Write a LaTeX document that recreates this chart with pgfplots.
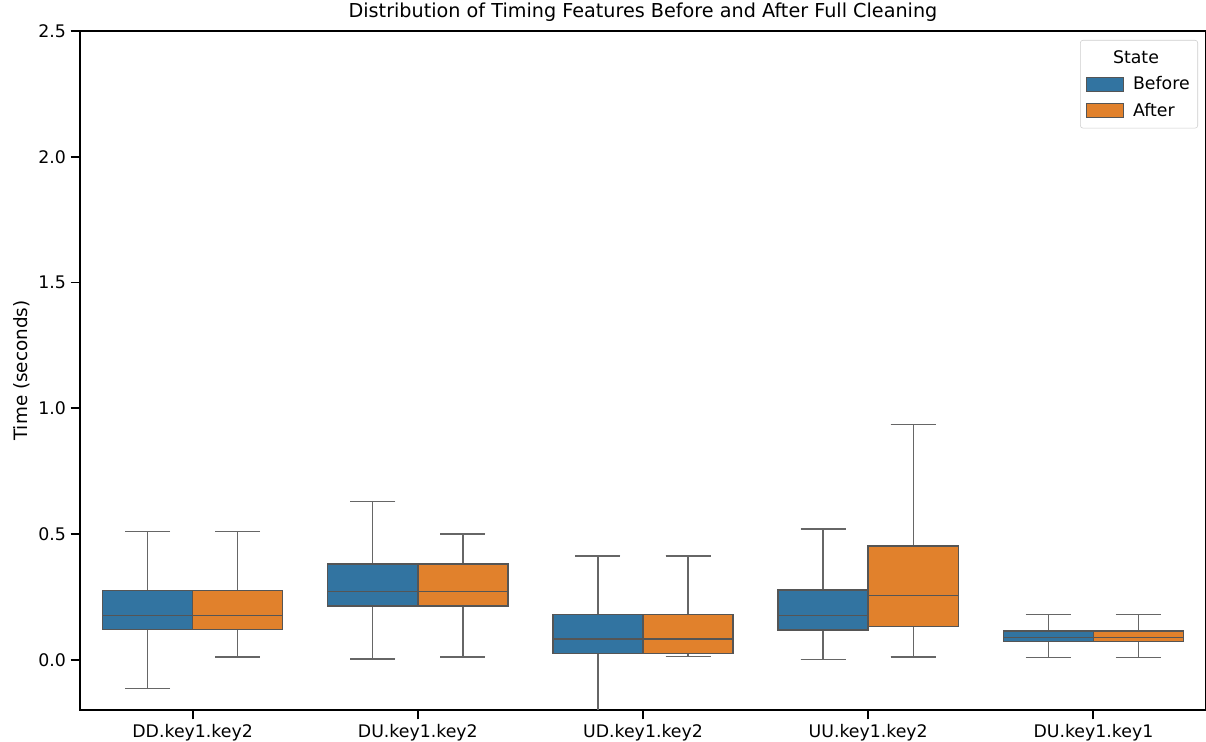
\documentclass[border=0pt]{standalone}
\usepackage{fontspec}
\setmainfont{DejaVu Sans}
\usepackage{pgfplots}
\pgfplotsset{compat=1.18}
\usepgfplotslibrary{statistics}
\definecolor{sbblue}{HTML}{3274A1}
\definecolor{sborange}{HTML}{E1812C}
\definecolor{edge}{HTML}{555555}
\newcommand{\lf}{\fontsize{13}{15.6}\selectfont}
\pgfplotsset{
  boxplot/every median/.style={line width=1.1pt, draw=edge},
  boxplot/every whisker/.style={line width=1.1pt, draw=edge!90},
}
\begin{document}
\begin{tikzpicture}
\useasboundingbox (-60pt,-24pt) rectangle (844.5pt,532.5pt);
\begin{axis}[
  at={(0,0)}, anchor=south west, scale only axis,
  width=844.5pt, height=509.25pt,
  xmin=-0.5, xmax=4.5, ymin=-0.2, ymax=2.5,
  xtick={0,1,2,3,4},
  xticklabels={DD.key1.key2,DU.key1.key2,UD.key1.key2,UU.key1.key2,DU.key1.key1},
  ytick={0,0.5,1,1.5,2,2.5},
  yticklabel style={/pgf/number format/.cd, fixed, fixed zerofill, precision=1},
  /pgf/number format/assume math mode=true,
  tick label style={font=\lf},
  tick align=outside, major tick length=7pt,
  xtick pos=lower, ytick pos=left,
  tick style={line width=1.4pt, black},
  axis line style={line width=1.4pt},
  title={Distribution of Timing Features Before and After Full Cleaning},
  title style={font=\fontsize{14.4}{17}\selectfont, at={(0.5,1)}, anchor=base, yshift=4pt},
  ylabel={Time (seconds)},
  ylabel style={font=\fontsize{13.8}{16}\selectfont, at={(axis description cs:-0.0515,0.5)}, anchor=center},
  legend style={at={(rel axis cs:1,1)}, anchor=north east, xshift=-6pt, yshift=-6.75pt,
    draw=black!20, rounded corners=2pt, font=\lf, row sep=4.5pt, column sep=5pt,
    inner xsep=4pt, inner ysep=5.5pt},
  legend cell align=left,
  legend image code/.code={\draw[#1, sharp corners, line width=0.8pt] (0pt,-5.25pt) rectangle (27.75pt,5.25pt);},
]
% DD.key1.key2
\addplot+[forget plot, fill=sbblue, draw=edge, line width=1.1pt, mark=none, solid,
  boxplot prepared={draw direction=y, draw position=-0.2, box extend=0.4, whisker extend=0.2,
  median=0.175, upper quartile=0.275, lower quartile=0.12,
  upper whisker=0.509, lower whisker=-0.114}] coordinates {};
\addplot+[forget plot, fill=sborange, draw=edge, line width=1.1pt, mark=none, solid,
  boxplot prepared={draw direction=y, draw position=0.2, box extend=0.4, whisker extend=0.2,
  median=0.175, upper quartile=0.275, lower quartile=0.12,
  upper whisker=0.509, lower whisker=0.011}] coordinates {};
% DU.key1.key2
\addplot+[forget plot, fill=sbblue, draw=edge, line width=1.1pt, mark=none, solid,
  boxplot prepared={draw direction=y, draw position=0.8, box extend=0.4, whisker extend=0.2,
  median=0.271, upper quartile=0.380, lower quartile=0.214,
  upper whisker=0.630, lower whisker=0.003}] coordinates {};
\addplot+[forget plot, fill=sborange, draw=edge, line width=1.1pt, mark=none, solid,
  boxplot prepared={draw direction=y, draw position=1.2, box extend=0.4, whisker extend=0.2,
  median=0.271, upper quartile=0.380, lower quartile=0.214,
  upper whisker=0.500, lower whisker=0.011}] coordinates {};
% UD.key1.key2
\addplot+[forget plot, fill=sbblue, draw=edge, line width=1.1pt, mark=none, solid,
  boxplot prepared={draw direction=y, draw position=1.8, box extend=0.4, whisker extend=0.2,
  median=0.083, upper quartile=0.179, lower quartile=0.024,
  upper whisker=0.413, lower whisker=-0.26}] coordinates {};
\addplot+[forget plot, fill=sborange, draw=edge, line width=1.1pt, mark=none, solid,
  boxplot prepared={draw direction=y, draw position=2.2, box extend=0.4, whisker extend=0.2,
  median=0.083, upper quartile=0.179, lower quartile=0.024,
  upper whisker=0.413, lower whisker=0.012}] coordinates {};
% UU.key1.key2
\addplot+[forget plot, fill=sbblue, draw=edge, line width=1.1pt, mark=none, solid,
  boxplot prepared={draw direction=y, draw position=2.8, box extend=0.4, whisker extend=0.2,
  median=0.175, upper quartile=0.278, lower quartile=0.119,
  upper whisker=0.519, lower whisker=0.001}] coordinates {};
\addplot+[forget plot, fill=sborange, draw=edge, line width=1.1pt, mark=none, solid,
  boxplot prepared={draw direction=y, draw position=3.2, box extend=0.4, whisker extend=0.2,
  median=0.255, upper quartile=0.452, lower quartile=0.132,
  upper whisker=0.935, lower whisker=0.011}] coordinates {};
% DU.key1.key1
\addplot+[forget plot, fill=sbblue, draw=edge, line width=1.1pt, mark=none, solid,
  boxplot prepared={draw direction=y, draw position=3.8, box extend=0.4, whisker extend=0.2,
  median=0.089, upper quartile=0.115, lower quartile=0.073,
  upper whisker=0.180, lower whisker=0.009}] coordinates {};
\addplot+[forget plot, fill=sborange, draw=edge, line width=1.1pt, mark=none, solid,
  boxplot prepared={draw direction=y, draw position=4.2, box extend=0.4, whisker extend=0.2,
  median=0.089, upper quartile=0.115, lower quartile=0.073,
  upper whisker=0.180, lower whisker=0.009}] coordinates {};
% legend
\addlegendimage{empty legend}
\addlegendentry{\hspace*{-15pt}State}
\addlegendimage{fill=sbblue, draw=edge}
\addlegendentry{Before}
\addlegendimage{fill=sborange, draw=edge}
\addlegendentry{After}
\end{axis}
\end{tikzpicture}
\end{document}
